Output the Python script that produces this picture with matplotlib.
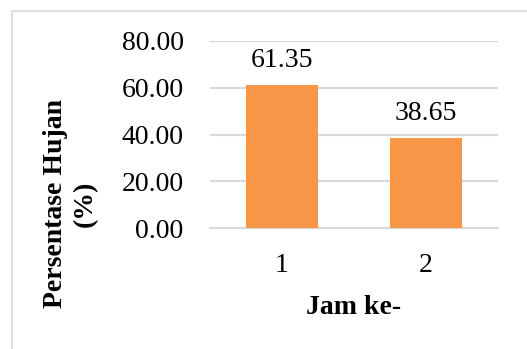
import matplotlib.pyplot as plt
from matplotlib.patches import Rectangle

jam = ["1", "2"]
persentase = [61.35, 38.65]
y_ticks = [0, 20, 40, 60, 80]

plt.rcParams["font.family"] = ["Liberation Serif", "DejaVu Serif"]

W, H = 527, 349
fig = plt.figure(figsize=(W / 100, H / 100), dpi=100)

# border of the chart box (goes past the right and bottom edges)
fig.patches.append(Rectangle((12 / W, -0.1), 1.2, 1 - 11 / H + 0.1,
                             transform=fig.transFigure, fill=False,
                             edgecolor="#D9D9D9", linewidth=1.2))

ax = fig.add_axes([210 / W, 1 - 228 / H, 288 / W, 187 / H])
x = range(len(jam))
bars = ax.bar(x, persentase, width=0.5, color="#F79646", zorder=3)

for bar, val in zip(bars, persentase):
    ax.annotate(f"{val:.2f}", (bar.get_x() + bar.get_width() / 2, bar.get_height()),
                xytext=(0, 8.5), textcoords="offset points",
                ha="center", va="bottom", fontsize=20)

ax.set_xlim(-0.5, 1.5)
ax.set_ylim(0, 80)
ax.set_yticks(y_ticks)
ax.set_yticklabels([f"{v:.2f}" for v in y_ticks])
ax.set_xticks(list(x))
ax.set_xticklabels(jam)
ax.tick_params(axis="both", length=0, labelsize=20)
ax.tick_params(axis="y", pad=19)
ax.tick_params(axis="x", pad=18)
ax.grid(axis="y", color="#D9D9D9", linewidth=1.5, zorder=0)
for s in ["top", "right", "left"]:
    ax.spines[s].set_visible(False)
ax.spines["bottom"].set_color("#D9D9D9")
ax.spines["bottom"].set_linewidth(1.5)

fig.text(354 / W, 1 - 308 / H, "Jam ke-", ha="center", va="center",
         fontsize=20, fontweight="bold")
fig.text(70 / W, 1 - 204 / H, "Persentase Hujan\n(%)", ha="center", va="center",
         rotation=90, multialignment="center", fontsize=20, fontweight="bold",
         linespacing=1.25)

fig.savefig("out.png", dpi=100)
